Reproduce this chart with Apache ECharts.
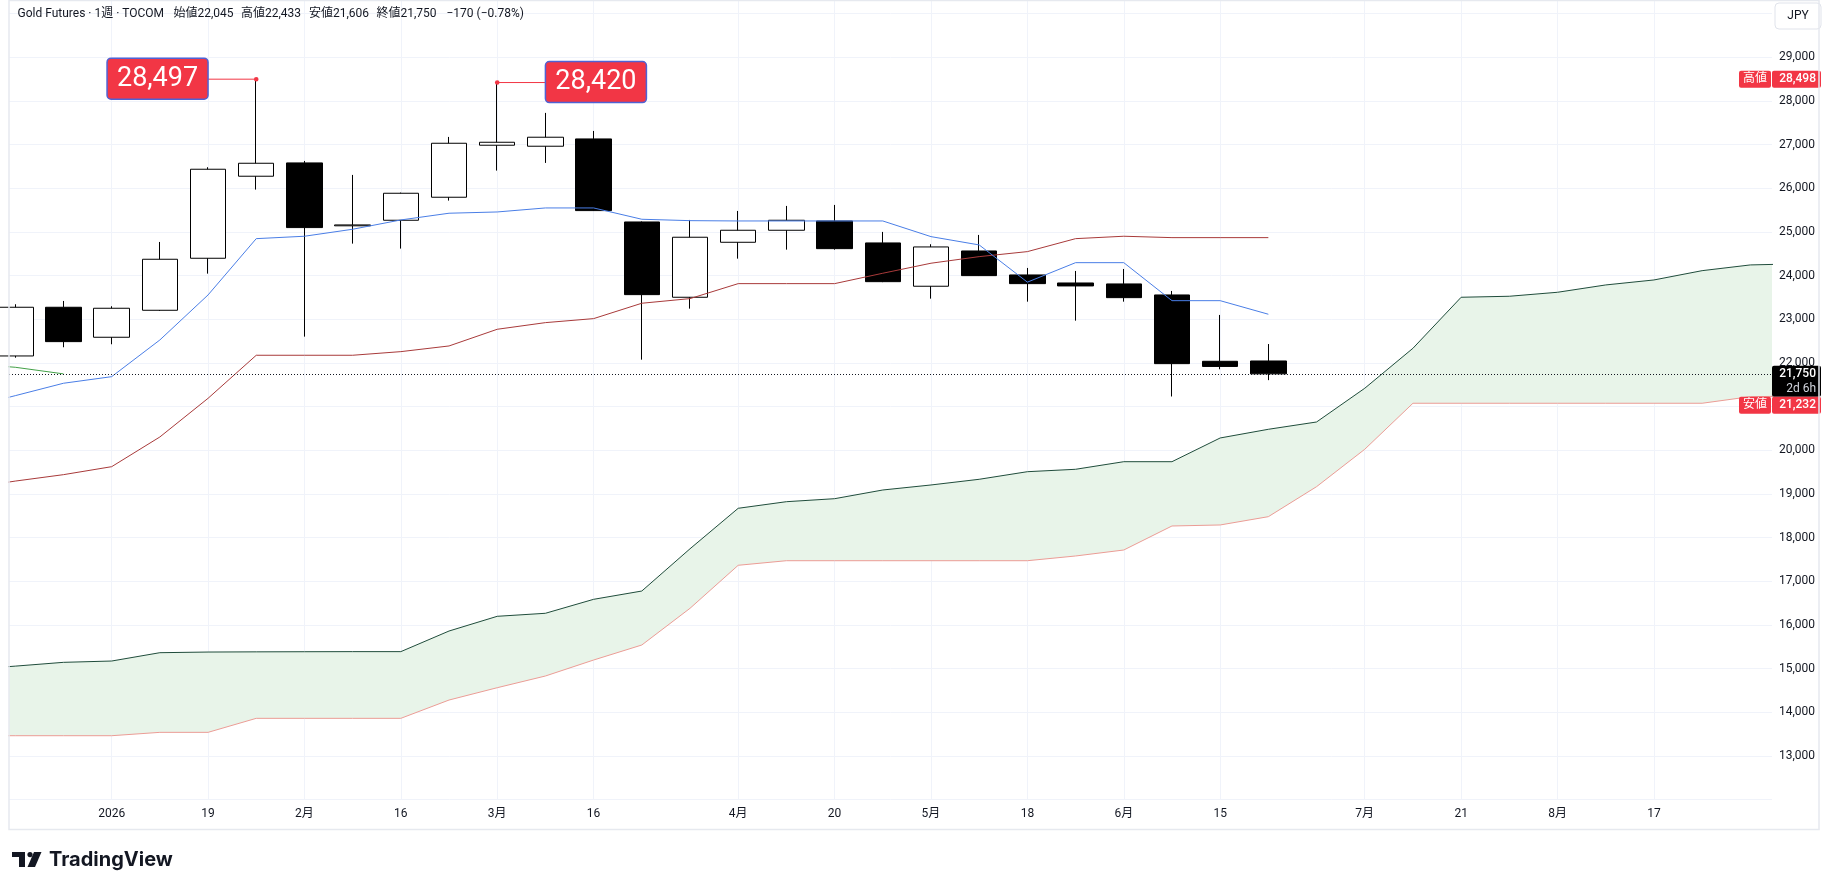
<!DOCTYPE html>
<html>
<head>
<meta charset="utf-8">
<title>Gold Futures · 1週 · TOCOM</title>
<script src="https://cdn.jsdelivr.net/npm/echarts@6/dist/echarts.min.js"></script>
<style>
  html, body { margin: 0; padding: 0; background: #fff; }
  #main { width: 1828px; height: 889px; }
</style>
</head>
<body>
<div id="main"></div>
<script>
// 週足の日付（2026-01-05 を 0 とする）
var weeks = ['2025-12-15','2025-12-22','2025-12-29','2026-01-05','2026-01-12','2026-01-19','2026-01-26',
  '2026-02-02','2026-02-09','2026-02-16','2026-02-23','2026-03-02','2026-03-09','2026-03-16','2026-03-23',
  '2026-03-30','2026-04-06','2026-04-13','2026-04-20','2026-04-27','2026-05-04','2026-05-11','2026-05-18',
  '2026-05-25','2026-06-01','2026-06-08','2026-06-15','2026-06-22','2026-06-29','2026-07-06','2026-07-13',
  '2026-07-21','2026-07-27','2026-08-03','2026-08-10','2026-08-17','2026-08-24','2026-08-31','2026-09-07'];

// ローソク足 2025-12-22 〜 2026-06-22
var opens  = [22160,23275,22588,23206,24397,26275,26580,25140,25267,25794,26985,26962,27129,25228,23504,24763,25038,25251,24748,23756,24564,24015,23831,23809,23557,22038,22045];
var highs  = [23344,23419,23298,24770,26481,28497,26625,26305,25900,27175,28420,27725,27312,25240,25274,25480,25595,25618,25000,24718,24931,24175,24106,24152,23648,23099,22433];
var lows   = [22120,22359,22428,23190,24045,25969,22602,24732,24618,25717,26404,26580,25480,22075,23243,24388,24594,24594,23850,23472,23990,23403,22968,23403,21232,21855,21606];
var closes = [23275,22488,23252,24374,26435,26572,25099,25160,25885,27030,27053,27168,25488,23564,24878,25038,25267,24617,23861,24656,23999,23816,23763,23495,21984,21920,21750];

// 一目均衡表 2025-12-15 〜
var tenkan = [20970,21251,21535,21686,22526,23557,24846,24901,25061,25274,25428,25457,25549,25549,25290,25258,25251,25251,25251,25251,24892,24702,23850,24296,24296,23426,23426,23115];
var kijun  = [19130,19295,19442,19625,20305,21190,22176,22176,22176,22259,22389,22771,22923,23015,23367,23473,23816,23816,23816,24054,24283,24434,24549,24846,24901,24869,24869,24869];
var chikou = [21984,21901,21750];
var spanA  = [14980,15058,15145,15175,15366,15381,15385,15388,15390,15390,15862,16199,16268,16588,16778,17745,18672,18823,18892,19091,19206,19336,19510,19565,19739,19739,20282,20481,20648,21420,22336,23504,23527,23618,23786,23900,24113,24244,24270];
var spanB  = [13465,13465,13465,13465,13542,13542,13863,13863,13863,13863,14282,14564,14832,15198,15542,16382,17367,17472,17472,17472,17472,17472,17472,17580,17717,18267,18290,18480,19167,20023,21077,21077,21077,21077,21077,21077,21077,21228,21240];

// 時間軸ラベル
var tickWeeks = ['2026-01-05','2026-01-19','2026-02-02','2026-02-16','2026-03-02','2026-03-16','2026-04-06','2026-04-20',
  '2026-05-04','2026-05-18','2026-06-01','2026-06-15','2026-07-06','2026-07-21','2026-08-03','2026-08-17'];
var tickText = ['2026','19','2月','16','3月','16','4月','20','5月','18','6月','15','7月','21','8月','17'];

var axisHigh = 28498, axisLow = 21232;
var highMarks = [{ week: '2026-01-26', side: 'left' }, { week: '2026-03-02', side: 'right' }];

var FONT = 'Roboto, "Noto Sans CJK JP", sans-serif';
var TXT = '#131722', RED = '#f23645', GRID = '#f0f3fa';

var base = weeks.indexOf('2026-01-05');
var candleStart = weeks.indexOf('2025-12-22');
function wk(d) { return weeks.indexOf(d) - base; }
function pts(arr, start) { return arr.map(function (v, i) { return [start + i - base, v]; }); }
function fmt(v) { return String(v).replace(/\B(?=(\d{3})+(?!\d))/g, ','); }

var candles = opens.map(function (o, i) { return [candleStart + i - base, o, closes[i], lows[i], highs[i]]; });
var tickVals = tickWeeks.map(wk);

var chart = echarts.init(document.getElementById('main'));

function lineSeries(name, data, color) {
  return { name: name, type: 'line', data: data, symbol: 'none', silent: true,
    lineStyle: { color: color, width: 1 } };
}

chart.setOption({
  animation: false,
  backgroundColor: '#fff',
  textStyle: { fontFamily: FONT },
  grid: { left: 9, right: 56, top: 0, bottom: 89.3 },
  xAxis: {
    type: 'value', min: -2.13, max: 34.45,
    axisLine: { show: false },
    axisTick: { show: false, customValues: tickVals },
    axisLabel: { customValues: tickVals, color: TXT, fontSize: 12, margin: 8, fontFamily: FONT,
      formatter: function (v) { return tickText[tickVals.indexOf(v)] || ''; } },
    splitLine: { show: true, lineStyle: { color: GRID, width: 1 } }
  },
  yAxis: {
    type: 'value', position: 'right', min: 12000, max: 30310, interval: 1000,
    axisLine: { show: false }, axisTick: { show: false },
    axisLabel: { color: TXT, fontSize: 12, align: 'right', margin: 43, fontFamily: FONT,
      formatter: function (v) { return (v % 1000 === 0 && v > 12000 && v < 30000) ? fmt(v) : ''; } },
    splitLine: { lineStyle: { color: GRID, width: 1 } }
  },
  series: [
    {
      // 雲（先行スパン1と2の間）
      name: '雲', type: 'custom', silent: true, data: pts(spanA, 0), encode: { x: 0, y: 1 },
      renderItem: function (params, api) {
        if (params.dataIndex !== 0) return;
        var top = spanA.map(function (v, i) { return api.coord([i - base, v]); });
        var bot = spanB.map(function (v, i) { return api.coord([i - base, v]); }).reverse();
        var cs = params.coordSys;
        return { type: 'polygon', shape: { points: top.concat(bot) }, style: { fill: '#e8f4e9' },
          clipPath: { type: 'rect', shape: { x: cs.x, y: cs.y, width: cs.width, height: cs.height } } };
      }
    },
    lineSeries('先行スパン2', pts(spanB, 0), '#eb9c95'),
    lineSeries('先行スパン1', pts(spanA, 0), '#1f4c3b'),
    lineSeries('遅行スパン', pts(chikou, 0), '#43a047'),
    lineSeries('基準線', pts(kijun, 0), '#a83a3a'),
    lineSeries('転換線', pts(tenkan, 0), '#4a7ee6'),
    {
      name: 'Gold Futures', type: 'candlestick', data: candles,
      encode: { x: 0, y: [1, 2, 3, 4] }, barWidth: 36, silent: true,
      itemStyle: { color: '#ffffff', color0: '#000000', borderColor: '#000000', borderColor0: '#000000', borderWidth: 1 },
      markLine: { symbol: 'none', silent: true, label: { show: false },
        lineStyle: { color: TXT, type: [1, 2], width: 1 },
        data: [{ yAxis: closes[closes.length - 1] }] }
    }
  ]
});

// 注記類（座標はチャートのスケールから取得）
function px(k, v) { return chart.convertToPixel({ gridIndex: 0 }, [k, v]); }
function py(v) { return chart.convertToPixel({ yAxisIndex: 0 }, v); }
var weekPx = px(1, 0)[0] - px(0, 0)[0];
var g = [];

highMarks.forEach(function (m) {
  var i = weeks.indexOf(m.week) - candleStart;
  var p = px(wk(m.week), highs[i]);
  var w = 101, h = 41;
  var x2 = m.side === 'left' ? p[0] - weekPx : p[0] + weekPx;
  var bx = m.side === 'left' ? x2 - w : x2;
  g.push({ type: 'line', z: 50, shape: { x1: p[0], y1: p[1], x2: x2, y2: p[1] }, style: { stroke: RED, lineWidth: 1 } });
  g.push({ type: 'circle', z: 51, shape: { cx: p[0], cy: p[1], r: 2.3 }, style: { fill: RED } });
  g.push({ type: 'rect', z: 52, shape: { x: bx, y: p[1] - h / 2 - 0.5, width: w, height: h, r: 4 },
    style: { fill: RED, stroke: '#4f62d4', lineWidth: 1.5 } });
  g.push({ type: 'text', z: 53, x: bx + w / 2, y: p[1], style: { text: fmt(highs[i]), fill: '#fff',
    font: '27px ' + FONT, align: 'center', verticalAlign: 'middle' } });
});

function axisBadge(y, tag, value) {
  g.push({ type: 'rect', z: 60, shape: { x: 1739, y: y - 8.5, width: 32, height: 17, r: 2 }, style: { fill: RED } });
  g.push({ type: 'text', z: 61, x: 1755, y: y, style: { text: tag, fill: '#fff', font: '12px ' + FONT, align: 'center', verticalAlign: 'middle' } });
  g.push({ type: 'rect', z: 60, shape: { x: 1772, y: y - 8.5, width: 49, height: 17, r: 2 }, style: { fill: RED } });
  g.push({ type: 'text', z: 61, x: 1816, y: y, style: { text: fmt(value), fill: '#fff', font: '500 12px ' + FONT, align: 'right', verticalAlign: 'middle' } });
}

var lastClose = closes[closes.length - 1];
var yLast = py(lastClose);
var lastTop = yLast - 8.2, lastBottom = lastTop + 31;
g.push({ type: 'rect', z: 60, shape: { x: 1772, y: lastTop, width: 49, height: 31, r: 2 }, style: { fill: '#000' } });
g.push({ type: 'text', z: 61, x: 1816, y: yLast, style: { text: fmt(lastClose), fill: '#fff', font: '500 12px ' + FONT, align: 'right', verticalAlign: 'middle' } });
g.push({ type: 'text', z: 61, x: 1816, y: yLast + 15.5, style: { text: '2d 6h', fill: '#d1d4dc', font: '12px ' + FONT, align: 'right', verticalAlign: 'middle' } });

axisBadge(py(axisHigh), '高値', axisHigh);
var yLow = py(axisLow);
if (yLow - 8.5 < lastBottom) yLow = lastBottom + 8.5;
axisBadge(yLow, '安値', axisLow);

// ヘッダー
var n = closes.length - 1;
var chg = closes[n] - closes[n - 1];
var pct = (chg / closes[n - 1] * 100).toFixed(2);
var sgn = chg < 0 ? '−' : '+';
var headParts = ['Gold Futures · 1週 · TOCOM', '始値' + fmt(opens[n]), '高値' + fmt(highs[n]),
  '安値' + fmt(lows[n]), '終値' + fmt(closes[n]), sgn + Math.abs(chg) + ' (' + sgn + Math.abs(pct) + '%)'];
var headX = [17.5, 173.5, 241, 309, 376.5, 446.5];
headParts.forEach(function (t, i) {
  g.push({ type: 'text', z: 70, x: headX[i], y: 14, style: { text: t, fill: TXT, font: '12px ' + FONT, verticalAlign: 'middle' } });
});

// JPY ボタン
g.push({ type: 'rect', z: 70, shape: { x: 1775, y: 3, width: 46, height: 26, r: 4 }, style: { fill: '#fff', stroke: '#e0e3eb', lineWidth: 1 } });
g.push({ type: 'text', z: 71, x: 1798, y: 16, style: { text: 'JPY', fill: TXT, font: '12px ' + FONT, align: 'center', verticalAlign: 'middle' } });

// 枠
g.push({ type: 'rect', z: 80, shape: { x: 9, y: 0.5, width: 1810, height: 829 }, style: { fill: null, stroke: '#e6e9ef', lineWidth: 1.5 } });

// ロゴ
g.push({ type: 'rect', z: 80, shape: { x: 12, y: 852, width: 13, height: 5 }, style: { fill: '#131722' } });
g.push({ type: 'rect', z: 80, shape: { x: 19, y: 852, width: 6, height: 15 }, style: { fill: '#131722' } });
g.push({ type: 'circle', z: 80, shape: { cx: 30, cy: 854.6, r: 2.6 }, style: { fill: '#131722' } });
g.push({ type: 'polygon', z: 80, shape: { points: [[34, 852], [41.5, 852], [35, 867], [27.5, 867]] }, style: { fill: '#131722' } });
g.push({ type: 'text', z: 80, x: 49, y: 860, style: { text: 'TradingView', fill: '#131722', font: '700 20px Inter, ' + FONT, verticalAlign: 'middle' } });

chart.setOption({ graphic: g });
</script>
</body>
</html>
